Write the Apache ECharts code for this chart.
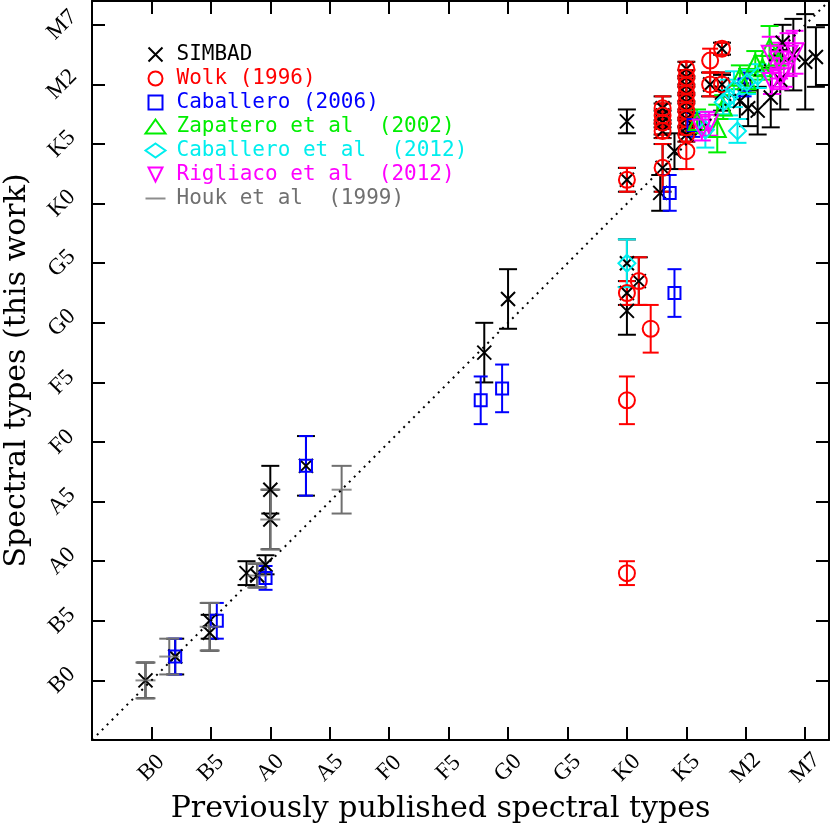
<!DOCTYPE html>
<html>
<head>
<meta charset="utf-8">
<title>Spectral types</title>
<style>
  html, body { margin: 0; padding: 0; background: #fff; }
  #main { width: 830px; height: 823px; }
</style>
</head>
<body>
<div id="main"></div>
<script src="https://cdn.jsdelivr.net/npm/echarts@6.0.0/dist/echarts.min.js"></script>
<script type="text/javascript">
// numeric scale: B0=0, B5=5, A0=10 ... M7=55 ; each point is [previous, this work, error]
var tickLabels = {0: 'B0', 5: 'B5', 10: 'A0', 15: 'A5', 20: 'F0', 25: 'F5', 30: 'G0', 35: 'G5', 40: 'K0', 45: 'K5', 50: 'M2', 55: 'M7'};

var simbad = [
    [-0.5, 0.0, 1.5], [2.0, 2.0, 1.5], [4.9, 5.0, 1.5], [4.9, 4.0, 1.5],
    [8.0, 9.0, 1.0], [8.9, 8.8, 1.0], [9.6, 9.7, 0.8],
    [10.0, 16.0, 2.0], [10.0, 13.5, 2.5], [13.0, 18.0, 2.5],
    [28.0, 27.5, 2.5], [30.0, 32.0, 2.5],
    [40.0, 35.0, 2.0], [40.0, 32.5, 1.0], [40.0, 31.0, 2.0], [41.0, 33.5, 2.0],
    [40.0, 42.0, 1.0], [40.0, 46.9, 1.0], [42.8, 40.9, 1.5], [43.0, 43.0, 2.0], [44.0, 44.4, 1.5],
    [43.0, 48.0, 1.0], [43.0, 47.4, 1.0], [43.0, 46.8, 1.0], [43.0, 46.1, 0.6],
    [45.0, 51.3, 0.6], [45.0, 50.6, 0.6], [45.0, 49.9, 0.6], [45.0, 49.2, 0.6], [45.0, 48.5, 0.6],
    [45.0, 47.8, 0.6], [45.0, 47.1, 0.6], [45.0, 46.4, 0.6], [45.0, 45.8, 0.6],
    [47.0, 50.0, 1.0], [48.0, 50.0, 1.0], [48.0, 53.0, 0.5],
    [48.0, 49.3, 1.5], [49.5, 48.6, 1.5], [50.2, 48.0, 1.5], [51.0, 47.8, 2.0],
    [52.1, 48.9, 2.5], [52.9, 50.4, 2.5], [53.1, 53.5, 1.5], [54.0, 52.5, 3.0],
    [55.0, 51.9, 4.0], [55.9, 52.3, 2.5]
];
var wolk = [
    [40.0, 9.0, 1.0], [40.0, 23.5, 2.0], [42.0, 29.5, 2.0], [40.0, 32.5, 1.0], [41.0, 33.5, 2.0],
    [40.0, 42.0, 1.0], [43.0, 43.0, 2.0],
    [43.0, 48.0, 1.0], [43.0, 47.4, 1.0], [43.0, 46.8, 1.0], [43.0, 46.1, 0.6],
    [45.0, 51.3, 0.6], [45.0, 50.6, 0.6], [45.0, 49.9, 0.6], [45.0, 49.2, 0.6], [45.0, 48.5, 0.6],
    [45.0, 47.8, 0.6], [45.0, 47.1, 0.6], [45.0, 46.4, 0.6], [45.0, 45.8, 0.6],
    [45.0, 44.4, 1.5], [47.0, 52.0, 1.0], [47.0, 50.0, 1.0], [48.0, 50.0, 1.0], [48.0, 53.0, 0.5]
];
var caballero06 = [
    [2.0, 2.0, 1.5], [5.5, 5.0, 1.5], [9.6, 8.6, 1.0], [13.0, 18.0, 2.5],
    [27.7, 23.5, 2.0], [29.5, 24.5, 2.0], [44.0, 32.5, 2.0], [43.6, 40.9, 1.5],
    [45.6, 46.6, 1.0], [49.9, 50.0, 1.0]
];
var zapatero = [
    [45.9, 46.9, 1.0], [47.6, 46.3, 2.0], [48.1, 48.1, 1.0], [49.5, 50.6, 1.0], [50.1, 50.3, 1.0],
    [50.8, 51.8, 1.0], [51.4, 51.4, 1.0], [52.0, 53.1, 1.8], [52.6, 52.3, 1.0]
];
var caballero12 = [
    [40.0, 35.0, 2.0], [46.6, 46.2, 1.5], [48.1, 48.5, 1.0], [48.6, 48.9, 1.5],
    [49.0, 49.6, 1.5], [49.3, 46.1, 1.0], [50.1, 50.2, 1.0], [51.0, 50.7, 1.0]
];
var rigliaco = [
    [46.9, 46.7, 1.0], [46.3, 46.3, 1.0], [52.2, 50.2, 1.0], [52.9, 50.6, 1.0], [53.2, 51.0, 1.2],
    [52.1, 52.5, 1.5], [52.8, 52.0, 1.5], [53.6, 52.5, 1.8], [54.1, 52.7, 1.8]
];
var houk = [
    [-0.5, 0.0, 1.5], [1.5, 2.0, 1.5], [4.9, 4.5, 2.0], [8.9, 8.8, 1.0], [10.0, 13.5, 2.5], [16.0, 16.0, 2.0]
];
var oneToOne = [[-5, -5], [57, 57]];

var myChart = echarts.init(document.getElementById('main'));

function errBars(name, data, color, half) {
    return {
        name: name + ' err', type: 'custom', data: data, silent: true,
        encode: {x: 0, y: 1},
        renderItem: function (params, api) {
            var x = api.value(0), y = api.value(1), e = api.value(2);
            var hi = api.coord([x, y + e]), lo = api.coord([x, y - e]);
            var st = {stroke: color, lineWidth: 2};
            return {type: 'group', children: [
                {type: 'line', shape: {x1: hi[0], y1: hi[1], x2: lo[0], y2: lo[1]}, style: st},
                {type: 'line', shape: {x1: hi[0] - half, y1: hi[1], x2: hi[0] + half, y2: hi[1]}, style: st},
                {type: 'line', shape: {x1: lo[0] - half, y1: lo[1], x2: lo[0] + half, y2: lo[1]}, style: st}
            ]};
        }
    };
}

function marks(name, data, color, symbol, size) {
    return {
        name: name, type: 'scatter', data: data, symbol: symbol, symbolSize: size,
        itemStyle: {color: 'none', borderColor: color, borderWidth: 2, opacity: 1},
        emphasis: {disabled: true}
    };
}

// name, data, colour, symbol, symbol size, half cap width, legend icon
var sources = [
    ['SIMBAD', simbad, '#000000', 'path://M0,0L10,10M10,0L0,10', 14, 9, null],
    ['Wolk (1996)', wolk, '#ff0000', 'circle', 16, 8, null],
    ['Caballero (2006)', caballero06, '#0000ff', 'rect', 12, 7, 'path://M0,0H10V10H0Z'],
    ['Zapatero et al  (2002)', zapatero, '#00ee00', 'triangle', 17, 9, null],
    ['Caballero et al  (2012)', caballero12, '#00eeee', 'diamond', 17, 9, null],
    ['Rigliaco et al  (2012)', rigliaco, '#ff00ff', 'path://M0,0L10,0L5,10Z', 18, 9, null],
    ['Houk et al  (1999)', houk, '#707070', 'rect', [20, 2], 10, 'path://M0,0H20V2H0Z']
];

var series = [{
    name: '1:1', type: 'line', data: oneToOne, symbol: 'none', silent: true,
    lineStyle: {color: '#000', width: 2, type: [2, 5]}
}];
var legendData = [];
sources.forEach(function (s) {
    series.push(errBars(s[0], s[1], s[2], s[5]));
    var m = marks(s[0], s[1], s[2], s[3], s[4]);
    var item = {name: s[0], textStyle: {color: s[2]}};
    if (s[6]) item.icon = s[6];
    if (s[0].indexOf('Houk') === 0) {
        m.itemStyle = {color: s[2], borderWidth: 0};
    }
    series.push(m);
    legendData.push(item);
});

var labelFmt = function (v) { return tickLabels[v] || ''; };
var tickStyle = {inside: true, length: 13, lineStyle: {color: '#000', width: 2}};
var lineStyle = {onZero: false, lineStyle: {color: '#000', width: 2}};
var lblStyle = {
    formatter: labelFmt, rotate: 45, fontFamily: 'Liberation Serif', fontSize: 23,
    color: '#000', align: 'center', verticalAlign: 'middle'
};
var titleStyle = {fontFamily: 'DejaVu Serif', fontSize: 30, color: '#000'};

option = {
    animation: false,
    grid: {left: 92, right: 1, top: 1, bottom: 83, outerBoundsMode: 'none'},
    legend: {
        orient: 'vertical', left: 143, top: 44, padding: 0,
        itemWidth: 20, itemHeight: 14, itemGap: 3,
        selectedMode: false,
        textStyle: {fontFamily: 'DejaVu Sans Mono', fontSize: 21, padding: [0, 0, 0, 6]},
        data: legendData
    },
    xAxis: [{
        type: 'value', min: -5, max: 57, interval: 5, position: 'bottom',
        axisLine: lineStyle, axisTick: tickStyle, splitLine: {show: false},
        axisLabel: Object.assign({margin: 28}, lblStyle),
        name: 'Previously published spectral types', nameLocation: 'middle', nameGap: 50,
        nameTextStyle: Object.assign({padding: [0, 40, 0, 0]}, titleStyle)
    }, {
        type: 'value', min: -5, max: 57, interval: 5, position: 'top',
        axisLine: lineStyle, axisTick: tickStyle, splitLine: {show: false}, axisLabel: {show: false}
    }],
    yAxis: [{
        type: 'value', min: -5, max: 57, interval: 5, position: 'left',
        axisLine: lineStyle, axisTick: tickStyle, splitLine: {show: false},
        axisLabel: Object.assign({margin: 30}, lblStyle),
        name: 'Spectral types (this work)', nameLocation: 'middle', nameGap: 52,
        nameTextStyle: titleStyle
    }, {
        type: 'value', min: -5, max: 57, interval: 5, position: 'right',
        axisLine: lineStyle, axisTick: tickStyle, splitLine: {show: false}, axisLabel: {show: false}
    }],
    series: series
};

myChart.setOption(option);
</script>
</body>
</html>
